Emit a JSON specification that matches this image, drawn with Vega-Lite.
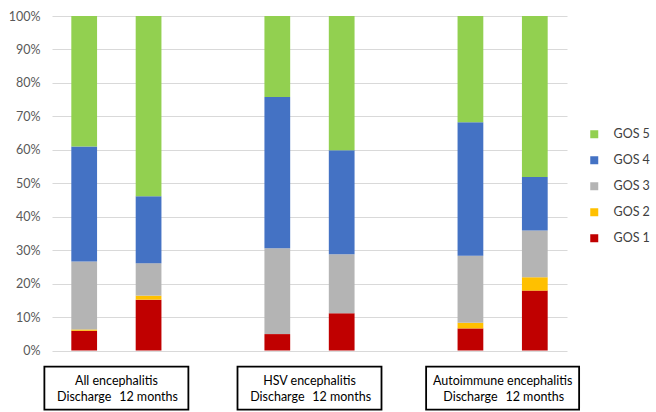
{
  "$schema": "https://vega.github.io/schema/vega-lite/v6.json",
  "autosize": {"type": "none"},
  "width": 515,
  "height": 334.5,
  "padding": {"left": 52, "top": 16, "right": 89, "bottom": 61.5},
  "background": "white",
  "config": {
    "view": {"stroke": null},
    "font": "Lato",
    "axis": {"labelFont": "Lato", "labelFontSize": 12},
    "axisY": {"tickCount": 10},
    "legend": {"labelFont": "Lato"}
  },
  "datasets": {
    "gos": [
      {"group": "All encephalitis", "time": "Discharge", "gos": "GOS 1", "pct": 5.9},
      {"group": "All encephalitis", "time": "Discharge", "gos": "GOS 2", "pct": 0.4},
      {"group": "All encephalitis", "time": "Discharge", "gos": "GOS 3", "pct": 20.3},
      {"group": "All encephalitis", "time": "Discharge", "gos": "GOS 4", "pct": 34.4},
      {"group": "All encephalitis", "time": "Discharge", "gos": "GOS 5", "pct": 39.0},
      {"group": "All encephalitis", "time": "12 months", "gos": "GOS 1", "pct": 15.2},
      {"group": "All encephalitis", "time": "12 months", "gos": "GOS 2", "pct": 1.2},
      {"group": "All encephalitis", "time": "12 months", "gos": "GOS 3", "pct": 9.7},
      {"group": "All encephalitis", "time": "12 months", "gos": "GOS 4", "pct": 20.0},
      {"group": "All encephalitis", "time": "12 months", "gos": "GOS 5", "pct": 53.9},
      {"group": "HSV encephalitis", "time": "Discharge", "gos": "GOS 1", "pct": 4.9},
      {"group": "HSV encephalitis", "time": "Discharge", "gos": "GOS 2", "pct": 0},
      {"group": "HSV encephalitis", "time": "Discharge", "gos": "GOS 3", "pct": 25.7},
      {"group": "HSV encephalitis", "time": "Discharge", "gos": "GOS 4", "pct": 45.2},
      {"group": "HSV encephalitis", "time": "Discharge", "gos": "GOS 5", "pct": 24.2},
      {"group": "HSV encephalitis", "time": "12 months", "gos": "GOS 1", "pct": 11.1},
      {"group": "HSV encephalitis", "time": "12 months", "gos": "GOS 2", "pct": 0},
      {"group": "HSV encephalitis", "time": "12 months", "gos": "GOS 3", "pct": 17.7},
      {"group": "HSV encephalitis", "time": "12 months", "gos": "GOS 4", "pct": 31.1},
      {"group": "HSV encephalitis", "time": "12 months", "gos": "GOS 5", "pct": 40.1},
      {"group": "Autoimmune encephalitis", "time": "Discharge", "gos": "GOS 1", "pct": 6.6},
      {"group": "Autoimmune encephalitis", "time": "Discharge", "gos": "GOS 2", "pct": 1.7},
      {"group": "Autoimmune encephalitis", "time": "Discharge", "gos": "GOS 3", "pct": 20.0},
      {"group": "Autoimmune encephalitis", "time": "Discharge", "gos": "GOS 4", "pct": 39.9},
      {"group": "Autoimmune encephalitis", "time": "Discharge", "gos": "GOS 5", "pct": 31.8},
      {"group": "Autoimmune encephalitis", "time": "12 months", "gos": "GOS 1", "pct": 17.9},
      {"group": "Autoimmune encephalitis", "time": "12 months", "gos": "GOS 2", "pct": 4.0},
      {"group": "Autoimmune encephalitis", "time": "12 months", "gos": "GOS 3", "pct": 14.0},
      {"group": "Autoimmune encephalitis", "time": "12 months", "gos": "GOS 4", "pct": 16.0},
      {"group": "Autoimmune encephalitis", "time": "12 months", "gos": "GOS 5", "pct": 48.1}
    ],
    "bars": [
      {"group": "All encephalitis", "time": "Discharge"},
      {"group": "All encephalitis", "time": "12 months"},
      {"group": "HSV encephalitis", "time": "Discharge"},
      {"group": "HSV encephalitis", "time": "12 months"},
      {"group": "Autoimmune encephalitis", "time": "Discharge"},
      {"group": "Autoimmune encephalitis", "time": "12 months"}
    ],
    "groups": [
      {"group": "All encephalitis"},
      {"group": "HSV encephalitis"},
      {"group": "Autoimmune encephalitis"}
    ]
  },
  "encoding": {
    "x": {
      "field": "group",
      "type": "nominal",
      "sort": ["All encephalitis", "HSV encephalitis", "Autoimmune encephalitis"],
      "scale": {"paddingInner": 0.3333, "paddingOuter": 0},
      "axis": null
    }
  },
  "layer": [
    {
      "data": {"name": "gos"},
      "mark": {"type": "bar"},
      "encoding": {
        "xOffset": {
          "field": "time",
          "type": "nominal",
          "sort": ["Discharge", "12 months"],
          "scale": {"paddingInner": 0.6, "paddingOuter": 0.3}
        },
        "y": {
          "field": "pct",
          "type": "quantitative",
          "stack": "normalize",
          "scale": {"domain": [0, 1], "nice": false},
          "axis": {
            "title": null,
            "format": ".0%",
            "tickCount": 10,
            "labelOverlap": false,
            "domain": false,
            "ticks": false,
            "labelPadding": 12,
            "labelColor": "#595959",
            "labelFontSize": 12.5,
            "gridColor": "#D9D9D9",
            "gridWidth": 1
          }
        },
        "color": {
          "field": "gos",
          "type": "nominal",
          "scale": {
            "domain": ["GOS 5", "GOS 4", "GOS 3", "GOS 2", "GOS 1"],
            "range": ["#92D050", "#4472C4", "#B4B4B4", "#FFC000", "#C00000"]
          },
          "legend": {
            "title": null,
            "orient": "none",
            "legendX": 536,
            "legendY": 112,
            "padding": 0,
            "symbolType": "square",
            "symbolSize": 64,
            "symbolStrokeWidth": 0,
            "labelFontSize": 12.5,
            "labelColor": "#404040",
            "labelOffset": 13,
            "rowPadding": 13
          }
        },
        "order": {"field": "gos", "sort": "ascending"}
      }
    },
    {
      "data": {"name": "groups"},
      "transform": [{"filter": "datum.group != 'Autoimmune encephalitis'"}],
      "mark": {"type": "bar", "width": 144, "fill": "white", "stroke": "black", "strokeWidth": 1.8},
      "encoding": {
        "y": {"datum": -0.048},
        "y2": {"datum": -0.177}
      }
    },
    {
      "data": {"name": "groups"},
      "transform": [{"filter": "datum.group == 'Autoimmune encephalitis'"}],
      "mark": {"type": "bar", "width": 153, "fill": "white", "stroke": "black", "strokeWidth": 1.8},
      "encoding": {
        "y": {"datum": -0.048},
        "y2": {"datum": -0.177}
      }
    },
    {
      "data": {"name": "groups"},
      "mark": {"type": "text", "fontSize": 12.5, "color": "#000000", "baseline": "middle", "align": "center"},
      "encoding": {
        "y": {"datum": -0.0906},
        "text": {"field": "group"}
      }
    },
    {
      "data": {"name": "bars"},
      "mark": {"type": "text", "fontSize": 12.5, "color": "#000000", "baseline": "middle", "align": "center"},
      "encoding": {
        "xOffset": {
          "field": "time",
          "type": "nominal",
          "sort": ["Discharge", "12 months"]
        },
        "y": {"datum": -0.1385},
        "text": {"field": "time"}
      }
    }
  ]
}
